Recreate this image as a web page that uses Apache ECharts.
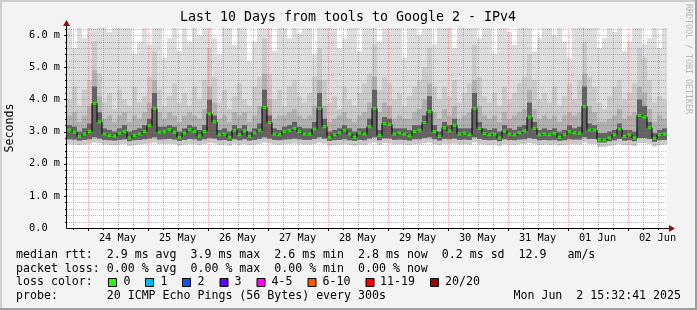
<!DOCTYPE html>
<html><head><meta charset="utf-8">
<script src="https://cdn.jsdelivr.net/npm/echarts@6/dist/echarts.min.js"></script>
<style>html,body{margin:0;padding:0;background:#f3f3f3;overflow:hidden}#c{width:697px;height:310px}</style>
</head><body><div id="c"></div><script>
// ---- data (hours relative to 24 May 00:00; 2-hour columns starting 23 May 15:48) ----
const startHour = -8.2, stepHours = 2;
const med = [3.05,2.98,2.85,2.92,3.0,3.88,3.3,2.92,2.88,2.86,
 2.95,3.0,2.8,2.88,2.92,3.0,3.18,3.72,2.98,3.0,
 3.06,2.98,2.82,2.95,3.06,3.0,2.86,3.0,3.55,3.3,
 2.9,2.92,2.82,3.04,2.9,3.02,2.85,2.96,3.04,3.75,
 3.28,2.92,2.9,3.0,3.04,3.1,3.0,2.92,2.92,3.08,
 3.72,3.15,2.82,2.9,2.96,3.04,2.92,2.82,2.96,2.92,
 3.15,3.72,2.88,3.25,3.22,2.92,2.96,2.92,2.87,3.0,
 3.04,3.28,3.63,3.0,2.85,3.12,3.02,3.2,2.92,2.95,
 2.9,3.72,3.1,2.94,2.9,2.92,2.8,3.02,2.92,2.9,
 2.96,3.02,3.45,3.1,2.9,2.92,2.9,2.94,2.82,2.9,
 3.0,2.96,2.95,3.78,3.05,3.05,2.75,2.74,2.8,2.9,
 3.08,2.85,2.9,2.8,3.5,3.45,3.12,2.78,2.9,2.92];
const maxv = [6.3,5.6,6.3,5.9,6.3,6.3,6.3,6.3,6.1,6.3,
 6.3,6.3,6.3,5.4,5.8,6.3,5.7,6.3,6.3,5.3,
 5.9,6.3,5.5,6.3,5.8,6.3,6.0,6.3,6.3,5.9,
 5.4,6.3,6.3,5.7,6.3,6.3,5.2,5.8,6.3,6.3,
 6.3,5.5,6.3,6.3,5.9,6.3,6.05,6.3,6.3,5.4,
 6.3,6.3,6.3,6.3,5.6,5.9,6.3,6.3,5.5,6.3,
 6.3,6.3,5.8,6.3,6.3,6.3,6.3,5.3,6.3,6.3,
 6.0,6.3,6.3,5.7,6.3,6.3,6.3,5.6,6.3,6.3,
 6.3,6.3,5.9,6.3,6.3,5.4,6.3,6.3,6.1,5.7,
 6.3,6.3,6.3,5.5,5.9,6.3,6.3,6.0,6.3,5.8,
 5.3,6.3,6.3,6.3,6.3,6.3,5.6,5.9,6.3,6.1,
 6.3,5.5,5.8,6.3,6.3,5.7,5.9,6.3,5.6,6.3];
const up2 = [4.0,4.4,3.8,4.3,4.6,5.8,4.8,3.9,4.2,3.7,
 4.3,4.0,3.8,4.4,3.9,4.1,4.7,5.5,4.3,3.8,
 4.1,4.5,3.9,4.2,3.8,4.4,4.0,4.6,5.6,4.7,
 3.9,4.3,3.7,4.1,4.5,4.0,3.8,4.4,4.7,5.9,
 4.8,4.0,4.3,3.8,4.4,4.6,4.1,3.9,4.2,4.7,
 5.6,4.6,3.9,4.1,3.7,4.4,4.0,3.8,4.2,4.5,
 4.8,5.7,4.3,4.7,4.5,4.0,4.2,3.8,4.1,4.4,
 4.6,5.0,5.6,4.4,4.0,4.4,4.1,4.6,3.9,4.2,
 4.5,5.7,4.7,4.1,3.9,4.2,3.8,4.4,4.0,4.2,
 4.5,4.7,5.4,4.6,4.0,4.2,3.9,4.4,3.8,4.1,
 4.5,4.0,4.6,5.8,4.7,4.4,3.9,3.7,4.1,4.4,
 4.6,4.0,4.2,4.5,5.6,5.3,4.6,3.9,4.1,4.0];
const up3 = [3.5,3.6,3.3,3.5,3.8,4.9,4.1,3.4,3.5,3.3,
 3.5,3.6,3.3,3.5,3.4,3.6,3.9,4.6,3.6,3.4,
 3.6,3.5,3.3,3.5,3.6,3.5,3.4,3.7,4.4,3.9,
 3.4,3.5,3.3,3.6,3.5,3.6,3.3,3.5,3.8,4.8,
 4.0,3.4,3.5,3.5,3.6,3.7,3.5,3.4,3.5,3.8,
 4.6,3.8,3.3,3.4,3.5,3.6,3.4,3.3,3.5,3.6,
 3.9,4.7,3.6,3.9,3.8,3.4,3.5,3.4,3.4,3.6,
 3.7,4.0,4.5,3.6,3.4,3.7,3.5,3.8,3.4,3.5,
 3.6,4.6,3.8,3.5,3.4,3.5,3.3,3.6,3.4,3.5,
 3.6,3.7,4.3,3.7,3.4,3.5,3.4,3.5,3.3,3.5,
 3.6,3.5,3.6,4.8,3.8,3.6,3.3,3.3,3.4,3.5,
 3.7,3.4,3.5,3.6,4.4,4.2,3.7,3.3,3.5,3.4];
const up4 = [3.2,3.15,3.0,3.1,3.25,4.4,3.6,3.1,3.05,3.0,
 3.1,3.2,3.0,3.05,3.1,3.2,3.4,4.2,3.15,3.15,
 3.2,3.15,3.0,3.1,3.2,3.15,3.05,3.2,4.0,3.5,
 3.05,3.1,3.0,3.2,3.1,3.2,3.0,3.1,3.25,4.3,
 3.5,3.1,3.05,3.15,3.2,3.3,3.15,3.1,3.1,3.3,
 4.2,3.4,3.0,3.05,3.1,3.2,3.1,3.0,3.1,3.1,
 3.4,4.3,3.05,3.45,3.4,3.1,3.1,3.1,3.05,3.2,
 3.2,3.5,4.1,3.2,3.0,3.3,3.2,3.4,3.1,3.1,
 3.1,4.2,3.3,3.1,3.05,3.1,3.0,3.2,3.1,3.05,
 3.15,3.2,3.9,3.3,3.05,3.1,3.05,3.1,3.0,3.05,
 3.2,3.1,3.15,4.4,3.25,3.2,2.95,2.95,3.0,3.05,
 3.25,3.05,3.05,3.0,4.0,3.8,3.3,2.95,3.05,3.1];
const lowq = [2.76,2.75,2.72,2.74,2.76,2.82,2.78,2.74,2.73,2.72,
 2.74,2.76,2.70,2.73,2.74,2.76,2.78,2.82,2.75,2.76,
 2.77,2.75,2.71,2.74,2.77,2.76,2.72,2.76,2.80,2.78,
 2.73,2.74,2.71,2.76,2.73,2.76,2.72,2.74,2.77,2.82,
 2.78,2.74,2.73,2.75,2.76,2.78,2.76,2.74,2.74,2.77,
 2.82,2.78,2.71,2.73,2.74,2.76,2.73,2.71,2.74,2.73,
 2.78,2.82,2.73,2.79,2.78,2.74,2.75,2.74,2.72,2.76,
 2.76,2.80,2.82,2.76,2.72,2.77,2.76,2.78,2.74,2.75,
 2.74,2.82,2.77,2.74,2.73,2.74,2.70,2.76,2.74,2.73,
 2.75,2.76,2.80,2.77,2.73,2.74,2.73,2.74,2.71,2.73,
 2.76,2.75,2.75,2.82,2.77,2.77,2.66,2.66,2.70,2.73,
 2.77,2.72,2.73,2.70,2.80,2.80,2.77,2.68,2.73,2.74];
const minv = [2.62,2.60,2.58,2.60,2.62,2.66,2.64,2.60,2.59,2.58,
 2.60,2.62,2.56,2.59,2.60,2.62,2.63,2.66,2.61,2.62,
 2.62,2.61,2.57,2.60,2.62,2.61,2.58,2.62,2.65,2.63,
 2.59,2.60,2.57,2.62,2.59,2.61,2.58,2.60,2.62,2.66,
 2.63,2.60,2.59,2.61,2.62,2.63,2.62,2.60,2.60,2.62,
 2.66,2.63,2.57,2.59,2.60,2.61,2.59,2.57,2.60,2.59,
 2.63,2.66,2.59,2.64,2.63,2.60,2.61,2.60,2.58,2.61,
 2.62,2.64,2.66,2.61,2.58,2.62,2.61,2.63,2.60,2.61,
 2.60,2.66,2.62,2.60,2.59,2.60,2.56,2.61,2.60,2.59,
 2.61,2.62,2.64,2.62,2.59,2.60,2.59,2.60,2.57,2.59,
 2.61,2.61,2.60,2.66,2.62,2.62,2.52,2.53,2.56,2.59,
 2.62,2.58,2.59,2.56,2.64,2.64,2.62,2.54,2.59,2.60];
// ---- axes / ticks ----
const xMin = -8.2, xMax = 231.8, yMin = 0, yMax = 6.22;
const dayHours = [0,24,48,72,96,120,144,168,192,216];
const dayLabels = ['24 May','25 May','26 May','27 May','28 May','29 May','30 May','31 May','01 Jun','02 Jun'];
const labelHours = [12,36,60,84,108,132,156,180,204,228];
const minorHours = [-6,6,12,18,30,36,42,54,60,66,78,84,90,102,108,114,126,132,138,150,156,162,174,180,186,198,204,210,222,228];
const yMajor = [1,2,3,4,5,6];
const yMinor = [0.2,0.4,0.6,0.8,1.2,1.4,1.6,1.8,2.2,2.4,2.6,2.8,3.2,3.4,3.6,3.8,4.2,4.4,4.6,4.8,5.2,5.4,5.6,5.8,6.2];
const yLabels = {0:'0.0  ',1:'1.0 m',2:'2.0 m',3:'3.0 m',4:'4.0 m',5:'5.0 m',6:'6.0 m'};

const FONT = '"DejaVu Sans Mono", monospace';
const GRAY = 'rgba(110,110,110,0.45)', RED = 'rgba(215,90,90,0.5)', ARROW = '#8a1010';

const smokeData = med.map((m,k)=>[startHour+k*stepHours, startHour+(k+1)*stepHours, minv[k], lowq[k], m, up4[k], up3[k], up2[k], maxv[k]]);
const medData = med.map((m,k)=>[startHour+(k+0.5)*stepHours, m]);

const chart = echarts.init(document.getElementById('c'), null, {renderer:'canvas'});
const bands = [[2,8,'#dddddd'],[2,7,'#cacaca'],[3,6,'#b0b0b0'],[3,5,'#626262']];

function dotted(x1,y1,x2,y2,color){
  return {type:'line',shape:{x1,y1,x2,y2},style:{stroke:color,lineWidth:1,lineDash:[1,1]}};
}

const option = {
  backgroundColor:'#f3f3f3',
  animation:false,
  grid:{left:67,right:30,top:28,bottom:82,containLabel:false,outerBoundsMode:'none',show:true,backgroundColor:'#ffffff',borderWidth:0},
  xAxis:{type:'value',min:xMin,max:xMax,splitLine:{show:false},axisTick:{show:false},
    axisLine:{show:false},
    axisLabel:{customValues:labelHours,margin:5,fontFamily:FONT,fontSize:10.3,color:'#000',
      formatter:v=>{const i=labelHours.indexOf(v);return i>=0?dayLabels[i]:'';}}},
  yAxis:{type:'value',min:yMin,max:yMax,interval:1,splitLine:{show:false},axisTick:{show:false},
    axisLine:{show:false},
    name:'Seconds',nameLocation:'middle',nameGap:51,nameRotate:90,
    nameTextStyle:{fontFamily:FONT,fontSize:11.6,color:'#000'},
    axisLabel:{margin:7,fontFamily:FONT,fontSize:10.3,color:'#000',
      formatter:v=>{const r=Math.round(v);return Math.abs(v-r)<1e-6&&yLabels[r]!==undefined?yLabels[r]:'';}}},
  series:[
    {type:'custom',name:'smoke',z:1,silent:true,clip:true,data:smokeData,
     renderItem:(params,api)=>{
       const t0=api.value(0),t1=api.value(1);
       const top=api.coord([xMin,yMax])[1];
       return {type:'group',children:bands.map(([lo,hi,color])=>{
         const p0=api.coord([t0,api.value(hi)]),p1=api.coord([t1,api.value(lo)]);
         const y0=Math.max(top,p0[1]);
         return {type:'rect',shape:{x:p0[0],y:y0,width:p1[0]-p0[0],height:Math.max(0,p1[1]-y0)},style:{fill:color}};
       })};
     }},
    {type:'custom',name:'grid',z:3,silent:true,data:[[xMin,yMin]],
     renderItem:(params,api)=>{
       const ch=[];
       const top=api.coord([xMin,yMax])[1], bot=api.coord([xMin,yMin])[1];
       const left=api.coord([xMin,yMin])[0], right=api.coord([xMax,yMin])[0];
       minorHours.forEach(h=>{const x=Math.round(api.coord([h,yMin])[0])+0.5;
         ch.push(dotted(x,top,x,bot,GRAY));
         ch.push({type:'line',shape:{x1:x,y1:bot,x2:x,y2:bot+2},style:{stroke:'#000',lineWidth:1}});});
       dayHours.forEach(h=>{const x=Math.round(api.coord([h,yMin])[0])+0.5;
         ch.push(dotted(x,top,x,bot,RED));
         ch.push({type:'line',shape:{x1:x,y1:bot,x2:x,y2:bot+3},style:{stroke:'#000',lineWidth:1}});});
       yMinor.forEach(v=>{const y=Math.round(api.coord([xMin,v])[1])+0.5;
         ch.push(dotted(left,y,right,y,GRAY));
         ch.push({type:'line',shape:{x1:left-2,y1:y,x2:left,y2:y},style:{stroke:'#000',lineWidth:1}});});
       yMajor.forEach(v=>{const y=Math.round(api.coord([xMin,v])[1])+0.5;
         ch.push(dotted(left,y,right,y,RED));
         ch.push({type:'line',shape:{x1:left-3,y1:y,x2:left,y2:y},style:{stroke:'#000',lineWidth:1}});});
       return {type:'group',children:ch};
     }},
    {type:'line',name:'median',z:4,silent:true,data:medData,step:'middle',showSymbol:false,
     lineStyle:{color:'#000',width:1},clip:true},
    {type:'scatter',name:'loss0',z:5,silent:true,data:medData,symbol:'rect',symbolSize:[4,3],
     itemStyle:{color:'#26ff00'}},
    {type:'custom',name:'frame',z:6,silent:true,data:[[xMin,yMin]],
     renderItem:(params,api)=>{
       const o=api.coord([xMin,yMin]),r=api.coord([xMax,yMin]),t=api.coord([xMin,yMax]);
       const ox=Math.round(o[0])-0.5, oy=Math.round(o[1])+0.5;
       return {type:'group',children:[
         {type:'line',shape:{x1:ox,y1:oy,x2:r[0]+3,y2:oy},style:{stroke:'#000',lineWidth:1}},
         {type:'line',shape:{x1:ox,y1:oy,x2:ox,y2:t[1]-3},style:{stroke:'#000',lineWidth:1}},
         {type:'polygon',shape:{points:[[r[0]+2,oy-3.5],[r[0]+8,oy],[r[0]+2,oy+3.5]]},style:{fill:ARROW}},
         {type:'polygon',shape:{points:[[ox-3.5,t[1]-2],[ox,t[1]-8],[ox+3.5,t[1]-2]]},style:{fill:ARROW}}]};
     }}
  ],
  graphic:[
    {type:'rect',left:0,top:0,shape:{width:697,height:2},style:{fill:'#cfcfcf'},silent:true},
    {type:'rect',left:0,top:0,shape:{width:2,height:310},style:{fill:'#cfcfcf'},silent:true},
    {type:'rect',left:0,top:308,shape:{width:697,height:2},style:{fill:'#9e9e9e'},silent:true},
    {type:'rect',left:695,top:0,shape:{width:2,height:310},style:{fill:'#9e9e9e'},silent:true},
    {type:'text',x:348,y:18,style:{text:'Last 10 Days from tools to Google 2 - IPv4',font:'13.3px '+FONT,fill:'#000',textAlign:'center',textVerticalAlign:'middle'}},
    {type:'text',x:688,y:4,rotation:-Math.PI/2,style:{text:'RRDTOOL / TOBI OETIKER',font:'8.3px '+FONT,fill:'#b8b8b8',textAlign:'left',textVerticalAlign:'middle'}},
    {type:'text',x:16,y:255,style:{text:'median rtt:  2.9 ms avg  3.9 ms max  2.6 ms min  2.8 ms now  0.2 ms sd  12.9   am/s',font:'11.6px '+FONT,fill:'#000',textVerticalAlign:'middle'}},
    {type:'text',x:16,y:268.5,style:{text:'packet loss: 0.00 % avg  0.00 % max  0.00 % min  0.00 % now',font:'11.6px '+FONT,fill:'#000',textVerticalAlign:'middle'}},
    {type:'text',x:16,y:282,style:{text:'loss color:',font:'11.6px '+FONT,fill:'#000',textVerticalAlign:'middle'}},
    {type:'text',x:16,y:296,style:{text:'probe:       20 ICMP Echo Pings (56 Bytes) every 300s',font:'11.6px '+FONT,fill:'#000',textVerticalAlign:'middle'}},
    {type:'text',x:681,y:296,style:{text:'Mon Jun  2 15:32:41 2025',font:'11.6px '+FONT,fill:'#000',textAlign:'right',textVerticalAlign:'middle'}}
  ]
};
// loss colour legend
const lossNames = ['0','1','2','3','4-5','6-10','11-19','20/20'];
const lossColors = ['#26ff00','#00b8ff','#0059ff','#5e00ff','#ff00ff','#ff5500','#ff0000','#a10000'];
const lossBoxX = [108,145,182,219.5,256.5,307.5,365.5,430];
const lossTextX = [123.5,160.5,197.5,234.5,271.5,322.5,380,445];
lossNames.forEach((n,i)=>{
  option.graphic.push({type:'rect',x:lossBoxX[i]+0.5,y:278.5,shape:{width:8,height:8},style:{fill:lossColors[i],stroke:'#000',lineWidth:1},silent:true});
  option.graphic.push({type:'text',x:lossTextX[i],y:282,style:{text:n,font:'11.6px '+FONT,fill:'#000',textVerticalAlign:'middle'}});
});
chart.setOption(option);
</script></body></html>
